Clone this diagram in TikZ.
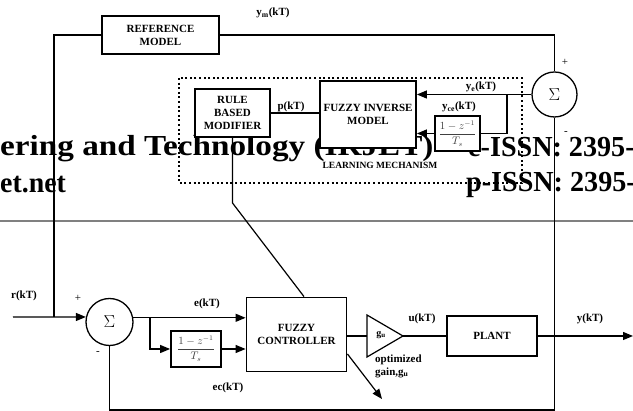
\documentclass[tikz,border=0pt]{standalone}
\usepackage{fontspec}
\usepackage{graphicx}
\setmainfont{Liberation Serif}
\usetikzlibrary{arrows.meta,calc}
\newcommand\dlbl{\bfseries\fontsize{11}{13}\selectfont}
\newcommand\dhdr{\bfseries\fontsize{29}{29}\selectfont}
\begin{document}
\begin{tikzpicture}[x=1pt,y=-1pt,
  box/.style={draw,line width=1.8pt,fill=white,inner sep=0pt,align=center,font=\dlbl},
  ln/.style={line width=1.2pt},
  arr/.style={ln,-{Triangle[length=10pt,width=8pt]}},
  lab/.style={font=\dlbl,inner sep=0pt},
  sgn/.style={font=\fontsize{11}{11}\selectfont,inner sep=0pt},
  sumc/.style={draw,circle,line width=1.3pt,fill=white,inner sep=0pt,font=\fontsize{16}{16}\selectfont},
  hdrtxt/.style={anchor=base west,inner sep=0pt,font=\dhdr},
  dfr/.style={inner sep=0pt,text=black!75,font=\fontsize{10.5}{10.5}\selectfont}
]
\useasboundingbox (0,0) rectangle (633,411);
\clip (0,0) rectangle (633,411);

% overlaid page header
\node[hdrtxt] (h1) at (0,156) {\scalebox{1.145}[1]{ering and Technology (IRJET)}};
\node[hdrtxt] (h2) at (0,193) {\scalebox{0.96}[1]{et.net}};
\node[hdrtxt] (h3) at (468,157) {\scalebox{0.97}[1]{e-ISSN: 2395-0056}};
\node[hdrtxt] (h4) at (466,192) {\scalebox{0.97}[1]{p-ISSN: 2395-0072}};
\coordinate (gl1) at (0,221);
\coordinate (gl2) at (633,221);
\draw[line width=1.5pt,gray] (gl1) -- (gl2);

% learning mechanism frame
\coordinate (lm1) at (179,78);
\coordinate (lm2) at (522,183);
\draw[line width=1.4pt,dash pattern=on 2pt off 2.6pt] (lm1) rectangle (lm2);
\node[inner sep=0pt,font=\bfseries\fontsize{9.5}{10}\selectfont] (lmlab) at (380,165) {LEARNING MECHANISM};

% blocks
\node[box,minimum width=117pt,minimum height=38pt] (ref) at (160.5,35) {REFERENCE\\MODEL};
\node[box,minimum width=75pt,minimum height=48pt] (rbm) at (232.5,113) {RULE\\BASED\\MODIFIER};
\node[box,minimum width=96pt,minimum height=67pt] (fim) at (368,114.5) {FUZZY INVERSE\\MODEL};
\node[box,minimum width=45pt,minimum height=35pt] (dbT) at (457.5,133.5) {};
\node[dfr] (fT) at (dbT.center) {$\displaystyle\frac{1-z^{-1}}{T_s}$};
\node[sumc,minimum size=45pt] (sumT) at (554.5,94.5) {$\Sigma$};
\node[sumc,minimum size=47pt] (sumL) at (109.5,322) {$\Sigma$};
\node[box,minimum width=50pt,minimum height=36pt] (dbL) at (196,349) {};
\node[dfr] (fL) at (dbL.center) {$\displaystyle\frac{1-z^{-1}}{T_s}$};
\node[box,minimum width=100pt,minimum height=74pt] (fc) at (296.5,334.5) {FUZZY\\CONTROLLER};
\node[box,minimum width=90pt,minimum height=40pt] (plant) at (492,336) {PLANT};

% gain triangle
\coordinate (gL) at (367,336);
\coordinate (gR) at (403,336);
\coordinate (gT) at (367,315);
\coordinate (gB) at (367,357);
\draw[ln,fill=white] (gT) -- (gR) -- (gB) -- cycle;
\node[lab,font=\bfseries\fontsize{10}{10}\selectfont] (gu) at (381,335) {g\textsubscript{u}};

% coordinates
\coordinate (rin) at (13,317);
\coordinate (jr) at (54,317);
\coordinate (jE) at (150,317.8);
\coordinate (yout) at (633,336);
\coordinate (fbR) at (554.5,410);
\coordinate (fbL) at (109.5,410);
\coordinate (jY) at (507,94.5);
\coordinate (bend) at (232.5,203);
\coordinate (adapt) at (382,399);

% connectors
\draw[arr] (rin) -- (sumL.168);
\draw[ln] (jr) |- (ref.west);
\draw[ln] (ref.east) -| (sumT.north);
\draw[arr] (sumL.10) -- (sumL.10 -| fc.west);
\draw[arr] (jE) |- (dbL.west);
\draw[arr] (dbL.east) -- (dbL.east -| fc.west);
\draw[ln] (fc.east |- gL) -- (gL);
\draw[ln] (gR) -- (plant.west);
\draw[arr] (plant.east) -- (yout);
\draw[ln] (sumT.south) -- (fbR) -- (fbL) -- (sumL.south);
\draw[arr] ($(fc.south east)+(0,-18.5)$) -- (adapt);
\draw[ln] (rbm.south) -- (bend) -- ($(fc.north)+(7.5,0)$);
\draw[arr] (sumT.west) -- (sumT.west -| fim.east);
\draw[ln] (jY) |- (dbT.east);
\draw[arr] (dbT.west) -- (dbT.west -| fim.east);
\draw[ln] (rbm.east) -- (rbm.east -| fim.west);

% labels
\node[lab] (lym) at (273,13) {y\textsubscript{m}(kT)};
\node[lab] (lp) at (291,107) {p(kT)};
\node[lab] (lye) at (481,87) {y\textsubscript{e}(kT)};
\node[lab] (lyce) at (459,107) {y\textsubscript{ce}(kT)};
\node[lab] (lr) at (24,296) {r(kT)};
\node[lab] (le) at (207,304) {e(kT)};
\node[lab] (lec) at (228,388) {ec(kT)};
\node[lab] (lu) at (422,319) {u(kT)};
\node[lab] (ly) at (590,319) {y(kT)};
\node[lab,anchor=west,align=left] (lopt) at (375,366) {optimized\\gain,g\textsubscript{u}};
\node[sgn] (p1) at (565,62) {+};
\node[sgn] (m1) at (566,133) {-};
\node[sgn] (p2) at (78,298) {+};
\node[sgn] (m2) at (98,353) {-};
\end{tikzpicture}
\end{document}
